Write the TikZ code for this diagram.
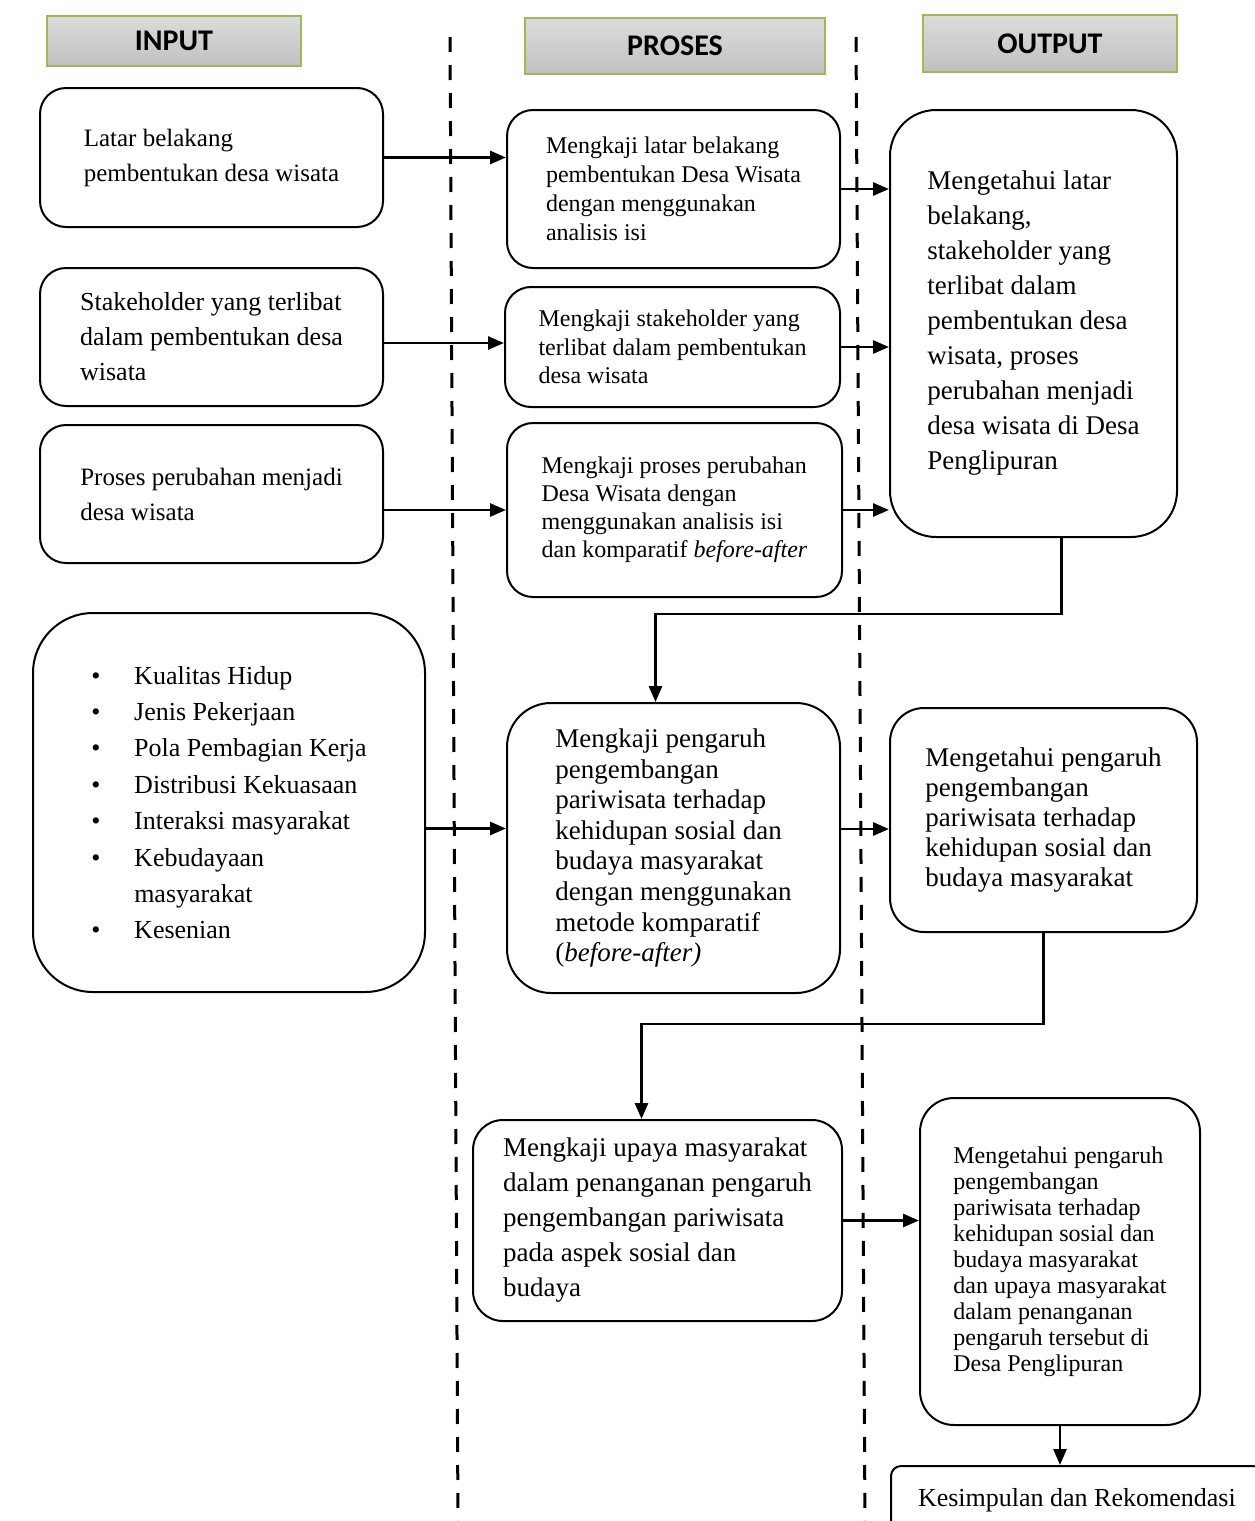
\documentclass[tikz,border=0pt]{standalone}
\usepackage{fontspec}
\setmainfont{Liberation Serif}
\newfontfamily\hdrfont{Carlito}
\usetikzlibrary{arrows.meta,positioning}

\definecolor{hdrgreen}{HTML}{9BBB59}
\definecolor{hdrtop}{HTML}{DCDCDC}
\definecolor{hdrbot}{HTML}{C0C0C0}

\newcommand{\txtsize}[2]{\fontsize{#1}{#2}\selectfont}
\newcommand{\blt}{\makebox[21.5pt][l]{\textbullet}}

\tikzset{
	hdr/.style={draw=hdrgreen, line width=1pt, top color=hdrtop, bottom color=hdrbot, font=\hdrfont\bfseries\txtsize{15}{17}, inner sep=0pt},
	box/.style={draw, line width=1pt, rounded corners=13pt, align=left, inner sep=0pt, fill=white},
	flow/.style={line width=1.4pt, -{Triangle[length=8pt,width=6.5pt]}},
	lane/.style={line width=1.5pt, dash pattern=on 7.5pt off 6.5pt},
}

\begin{document}
\begin{tikzpicture}[x=0.5pt,y=-0.5pt]
	\useasboundingbox[fill=white] (0,0) rectangle (1254,1521);
	% dashed separators between the columns
	\draw[lane] (450,37) -- (458,1521);
	\draw[lane] (856,37) -- (865,1521);

	% column headers
	\node[hdr, minimum width=127pt, minimum height=25pt] (hin) at (174,41) {INPUT};
	\node[hdr, minimum width=150pt, minimum height=28pt] (hproc) at (675,46) {PROSES};
	\node[hdr, minimum width=127pt, minimum height=28.5pt] (hout) at (1050,43.5) {OUTPUT};

	% input
	\node[box, minimum width=171.5pt, minimum height=69.5pt, font=\txtsize{12.5}{17.5}] (in1) at (211.5,157.5) {Latar belakang\\pembentukan desa wisata};
	\node[box, minimum width=171.5pt, minimum height=69pt, font=\txtsize{13}{17.5}] (in2) at (211.5,337) {Stakeholder yang terlibat\\dalam pembentukan desa\\wisata};
	\node[box, minimum width=171.5pt, minimum height=69pt, font=\txtsize{12.5}{17.5}] (in3) at (211.5,494) {Proses perubahan menjadi\\desa wisata};
	\node[box, rounded corners=30pt, minimum width=196pt, minimum height=189.5pt, font=\txtsize{13}{18.2}] (in4) at (229,802.5) {\blt Kualitas Hidup\\\blt Jenis Pekerjaan\\\blt Pola Pembagian Kerja\\\blt Distribusi Kekuasaan\\\blt Interaksi masyarakat\\\blt Kebudayaan\\\hspace*{21.5pt}masyarakat\\\blt Kesenian};

	% proses
	\node[box, minimum width=166.5pt, minimum height=79pt, font=\txtsize{12}{14.5}] (proc1) at (673.5,189) {Mengkaji latar belakang\\pembentukan Desa Wisata\\dengan menggunakan\\analisis isi};
	\node[box, minimum width=167.5pt, minimum height=60pt, font=\txtsize{12}{14.2}] (proc2) at (672.5,347) {Mengkaji stakeholder yang\\terlibat dalam pembentukan\\desa wisata};
	\node[box, minimum width=167.5pt, minimum height=87pt, font=\txtsize{12}{14}] (proc3) at (674.5,510) {Mengkaji proses perubahan\\Desa Wisata dengan\\menggunakan analisis isi\\dan komparatif \textit{before-after}};
	\node[box, rounded corners=22pt, minimum width=166.5pt, minimum height=145pt, font=\txtsize{13.5}{15.3}] (proc4) at (673.5,848) {Mengkaji pengaruh\\pengembangan\\pariwisata terhadap\\kehidupan sosial dan\\budaya masyarakat\\dengan menggunakan\\metode komparatif\\(\textit{before-after)}};
	\node[box, rounded corners=15pt, minimum width=184.5pt, minimum height=100.5pt, font=\txtsize{13.5}{17.5}] (proc5) at (657.5,1220.5) {Mengkaji upaya masyarakat\\dalam penanganan pengaruh\\pengembangan pariwisata\\pada aspek sosial dan\\budaya};

	% output
	\node[box, rounded corners=23pt, minimum width=143.5pt, minimum height=213.5pt, font=\txtsize{13.5}{17.5}] (out1) at (1033.5,323.5) {Mengetahui latar\\belakang,\\stakeholder yang\\terlibat dalam\\pembentukan desa\\wisata, proses\\perubahan menjadi\\desa wisata di Desa\\Penglipuran};
	\node[box, rounded corners=17pt, minimum width=153.5pt, minimum height=112pt, font=\txtsize{13.5}{15}] (out4) at (1043.5,820) {Mengetahui pengaruh\\pengembangan\\pariwisata terhadap\\kehidupan sosial dan\\budaya masyarakat};
	\node[box, rounded corners=17pt, minimum width=140pt, minimum height=163.5pt, font=\txtsize{12}{13}] (outB) at (1060,1261.5) {Mengetahui pengaruh\\pengembangan\\pariwisata terhadap\\kehidupan sosial dan\\budaya masyarakat\\dan upaya masyarakat\\dalam penanganan\\pengaruh tersebut di\\Desa Penglipuran};
	\node[box, rounded corners=5pt, anchor=north west, inner xsep=13.5pt, inner ysep=11pt, font=\txtsize{13}{15}] (concl) at (890,1465) {Kesimpulan dan Rekomendasi};

	% input to proses to output
	\draw[flow] (in1.east) -- (in1.east -| proc1.west);
	\draw[flow] ([yshift=-3pt]in2.east) -- ([yshift=-3pt]in2.east -| proc2.west);
	\draw[flow] (proc3.west -| in3.east) -- (proc3.west);
	\draw[flow] ([yshift=-13pt]in4.east) -- ([yshift=-13pt]in4.east -| proc4.west);
	\draw[flow] (proc1.east) -- (proc1.east -| out1.west);
	\draw[flow] (proc2.east) -- (proc2.east -| out1.west);
	\draw[flow] (proc3.east) -- (proc3.east -| out1.west);
	\draw[flow] ([yshift=9.5pt]proc4.east) -- ([yshift=9.5pt]proc4.east -| out4.west);
	\draw[flow] (proc5.east) -- (proc5.east -| outB.west);

	% back to the proses column
	\draw[flow] ([xshift=14pt]out1.south) -- ++(0,76) -| ([xshift=-9pt]proc4.north);
	\draw[flow] (out4.south) -- ++(0,91) -| ([xshift=-8pt]proc5.north);
	\draw[flow] (outB.south) -- (outB.south |- concl.north);
\end{tikzpicture}
\end{document}
